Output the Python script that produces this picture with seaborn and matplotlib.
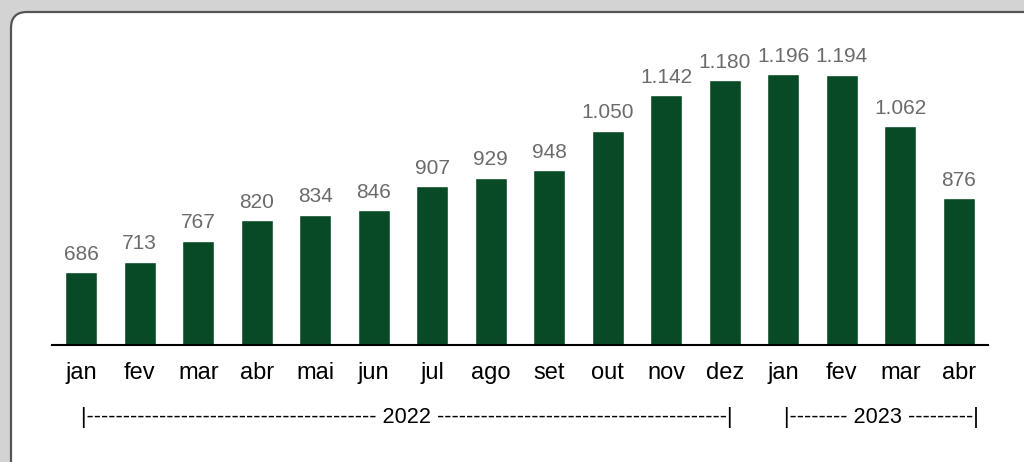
import pandas as pd
import matplotlib.pyplot as plt
from matplotlib.patches import FancyBboxPatch
import seaborn as sns

# chart data
periodos = ["jan/22", "fev/22", "mar/22", "abr/22", "mai/22", "jun/22", "jul/22", "ago/22",
            "set/22", "out/22", "nov/22", "dez/22", "jan/23", "fev/23", "mar/23", "abr/23"]
meses = ["jan", "fev", "mar", "abr", "mai", "jun", "jul", "ago",
         "set", "out", "nov", "dez", "jan", "fev", "mar", "abr"]
valores = [686, 713, 767, 820, 834, 846, 907, 929, 948, 1050, 1142, 1180, 1196, 1194, 1062, 876]
anos = ["2022", "2023"]

df = pd.DataFrame({"periodo": periodos, "valor": valores})

sns.set_theme(style="white")
plt.rcParams["font.family"] = ["Liberation Sans", "DejaVu Sans"]

fig = plt.figure(figsize=(10.24, 4.62), dpi=100)
fig.patch.set_facecolor("#d3d3d3")

# white rounded card (behind the axes)
card = FancyBboxPatch((0.11, -0.3), 10.5, 4.80,
                      boxstyle="round,pad=0,rounding_size=0.16",
                      transform=fig.dpi_scale_trans,
                      facecolor="white", edgecolor="#555555", linewidth=1.6,
                      zorder=-10)
fig.patches.append(card)

ax = fig.add_axes([52 / 1024, (462 - 345) / 462, 936 / 1024, (345 - 20) / 462])
ax.set_facecolor("none")
ax.set_zorder(5)

sns.barplot(data=df, x="periodo", y="valor", color="#094a26", saturation=1,
            width=0.55, ax=ax)

ax.set_ylim(498, 1335)
ax.set_xlim(-0.5, len(periodos) - 0.5)

rotulos = [f"{v:,}".replace(",", ".") for v in valores]
ax.bar_label(ax.containers[0], labels=rotulos, padding=6, fontsize=15, color="#6b6b6b")

ax.set_xticks(range(len(meses)))
ax.set_xticklabels(meses, fontsize=17, color="black")
ax.tick_params(axis="x", length=0, pad=12)
ax.set_yticks([])
ax.set_xlabel("")
ax.set_ylabel("")

for s in ["top", "right", "left"]:
    ax.spines[s].set_visible(False)
ax.spines["bottom"].set_color("black")
ax.spines["bottom"].set_linewidth(1.5)

# year markers under the months
fig.text(407 / 1024, 1 - 418 / 462, "|" + "-" * 40 + " " + anos[0] + " " + "-" * 40 + "|",
         ha="center", va="center", fontsize=15.6, color="black")
fig.text(881 / 1024, 1 - 418 / 462, "|" + "-" * 8 + " " + anos[1] + " " + "-" * 9 + "|",
         ha="center", va="center", fontsize=15.6, color="black")

fig.savefig("out.png", dpi=100, facecolor=fig.get_facecolor())
